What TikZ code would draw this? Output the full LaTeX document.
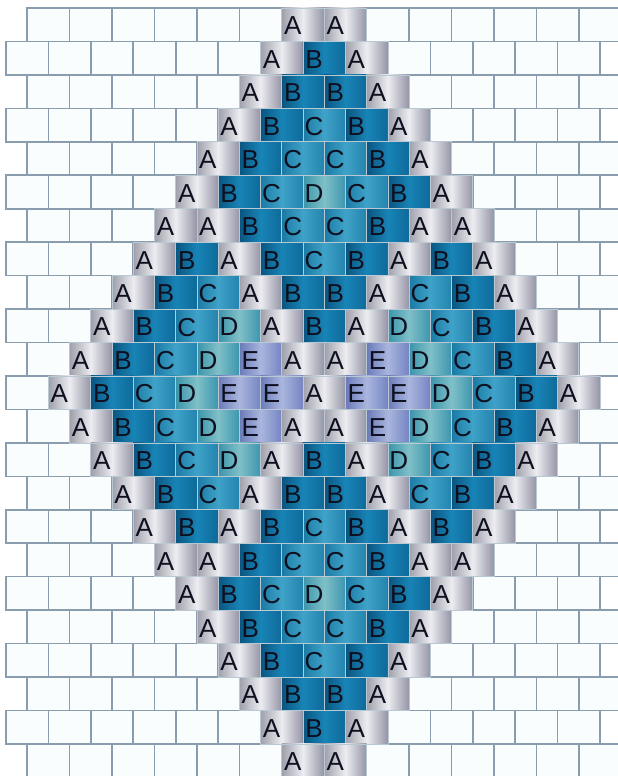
\documentclass[tikz,border=0pt]{standalone}
\usepackage{fontspec}
\setmainfont{Liberation Sans}
\definecolor{gridline}{HTML}{8A9DAE}
\definecolor{brickwhite}{HTML}{FAFDFE}
\definecolor{cellline}{HTML}{B9C9D4}
\definecolor{ink}{HTML}{0E1020}
\definecolor{AL}{HTML}{A0A0AC}\definecolor{AM}{HTML}{ECECF1}\definecolor{AR}{HTML}{9494A6}
\definecolor{BL}{HTML}{0A5580}\definecolor{BM}{HTML}{1884B6}\definecolor{BR}{HTML}{0E6A9A}
\definecolor{CL}{HTML}{1B7AA4}\definecolor{CM}{HTML}{3FA2C8}\definecolor{CR}{HTML}{2384AE}
\definecolor{DL}{HTML}{3A94AA}\definecolor{DM}{HTML}{80C0C8}\definecolor{DR}{HTML}{3C95AE}
\definecolor{EL}{HTML}{6A7AB8}\definecolor{EM}{HTML}{AAB6DE}\definecolor{ER}{HTML}{7484C2}
\tikzset{
  brick/.style={draw=gridline, line width=1.6, fill=brickwhite},
  cell/.style={draw=cellline, line width=0.7, left color=#1L, right color=#1R, middle color=#1M},
  letter/.style={inner sep=0pt, text=ink, font=\fontsize{26}{26}\selectfont}
}
\begin{document}
\begin{tikzpicture}[x=1pt,y=-1pt]
\useasboundingbox (0,0) rectangle (618,776);
\clip (0,0) rectangle (618,776);
% empty brick grid
\foreach \r in {1,...,23} {
  \pgfmathsetmacro{\yt}{8+(\r-1)*33.45}
  \pgfmathsetmacro{\xs}{ifthenelse(mod(\r,2)==1,27.2,6)}
  \foreach \k in {0,...,13}
    \draw[brick] ({\xs+\k*42.43},\yt) rectangle +(42.43,33.45);
}
% coloured beads
\foreach \r/\pat in {1/{A,A},2/{A,B,A},3/{A,B,B,A},4/{A,B,C,B,A},5/{A,B,C,C,B,A},
    6/{A,B,C,D,C,B,A},7/{A,A,B,C,C,B,A,A},8/{A,B,A,B,C,B,A,B,A},
    9/{A,B,C,A,B,B,A,C,B,A},10/{A,B,C,D,A,B,A,D,C,B,A},
    11/{A,B,C,D,E,A,A,E,D,C,B,A},12/{A,B,C,D,E,E,A,E,E,D,C,B,A},
    13/{A,B,C,D,E,A,A,E,D,C,B,A},14/{A,B,C,D,A,B,A,D,C,B,A},
    15/{A,B,C,A,B,B,A,C,B,A},16/{A,B,A,B,C,B,A,B,A},17/{A,A,B,C,C,B,A,A},
    18/{A,B,C,D,C,B,A},19/{A,B,C,C,B,A},20/{A,B,C,B,A},21/{A,B,B,A},
    22/{A,B,A},23/{A,A}} {
  \pgfmathsetmacro{\yt}{8+(\r-1)*33.45}
  \pgfmathsetmacro{\xo}{324.2-min(\r+1,25-\r)*21.215}
  \foreach \ltr [count=\k from 0] in \pat {
    \path[cell=\ltr] ({\xo+\k*42.43},\yt) rectangle +(42.43,33.45);
    \node[letter] (l-\r-\k) at ({\xo+\k*42.43+11},{\yt+18}) {\ltr};
  }
}
\end{tikzpicture}
\end{document}
